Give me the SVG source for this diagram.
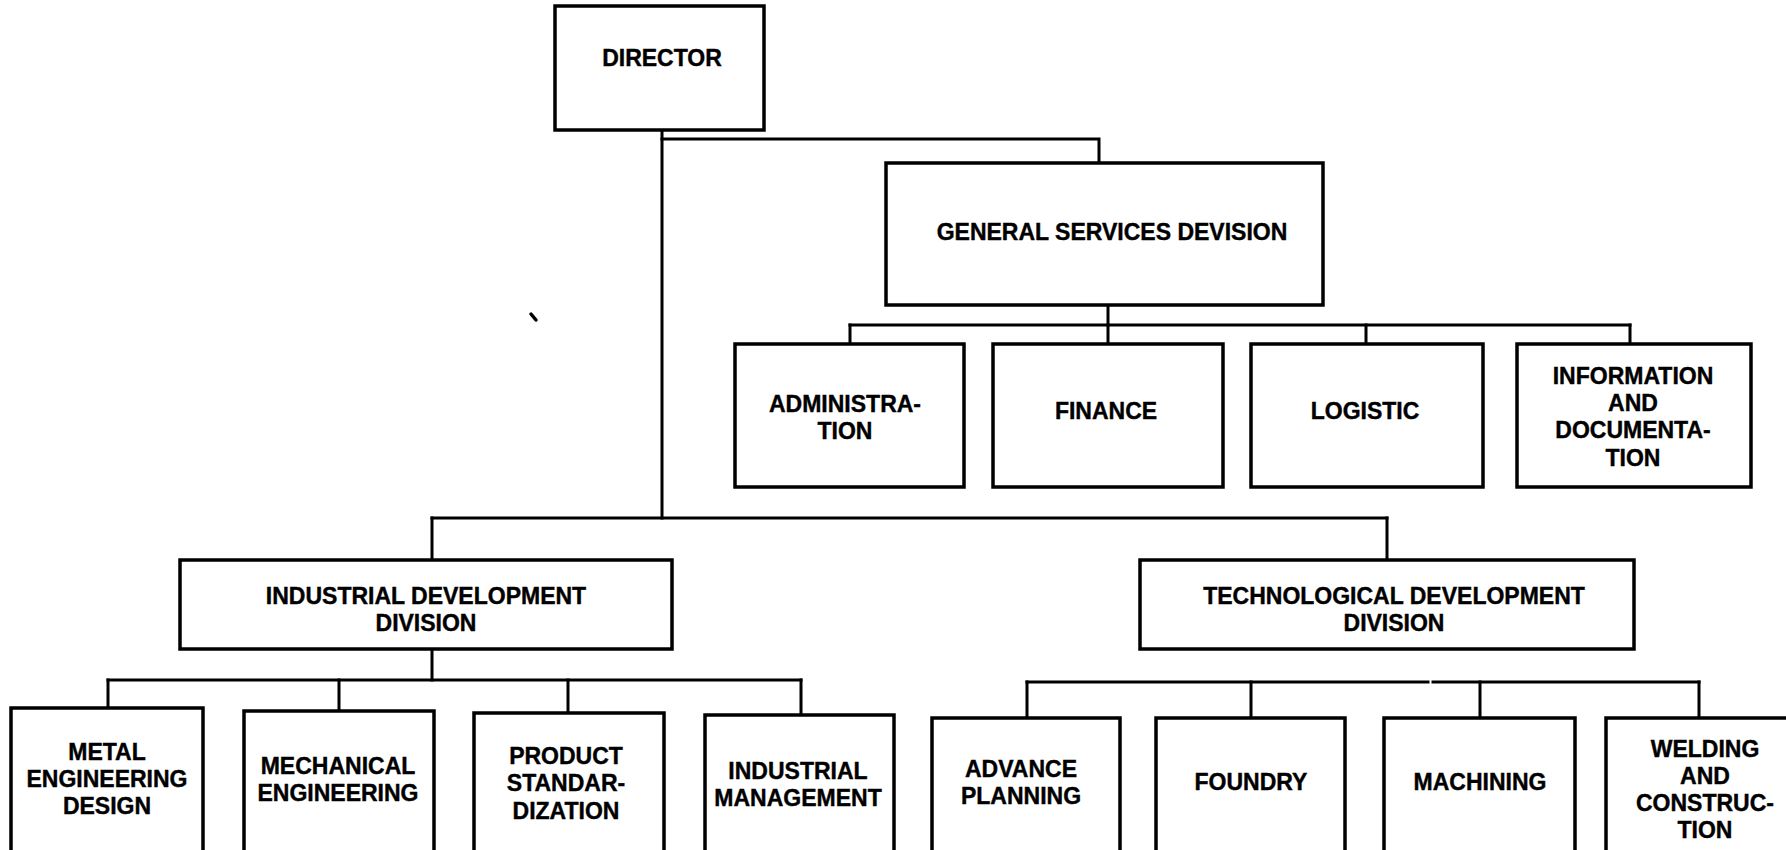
<svg xmlns="http://www.w3.org/2000/svg" width="1786" height="850" viewBox="0 0 1786 850">
  <style>
    .box { fill: #ffffff; stroke: #000000; stroke-width: 3.5; }
    .wire { fill: none; stroke: #000000; stroke-width: 3; stroke-linecap: square; }
    text { font-family: "Liberation Sans", Arial, sans-serif; font-weight: bold; font-size: 23px; fill: #000000; stroke: #000000; stroke-width: 0.4; text-anchor: middle; }
  </style>
  <rect width="1786" height="850" fill="#ffffff"/>

  <!-- connectors -->
  <g id="connectors" class="wire">
    <!-- director trunk and branch to general services -->
    <path d="M662 130 V518"/>
    <path d="M662 139 H1099 V163"/>
    <!-- general services to its units -->
    <path d="M1108 305 V325"/>
    <path d="M850 325 H1630"/>
    <path d="M850 325 V344 M1108 325 V344 M1366 325 V344 M1630 325 V344"/>
    <!-- director trunk to the two development divisions -->
    <path d="M432 518 H1387"/>
    <path d="M432 518 V560 M1387 518 V560"/>
    <!-- industrial development units -->
    <path d="M432 649 V680"/>
    <path d="M108 680 H801"/>
    <path d="M108 680 V708 M339 680 V711 M568 680 V713 M801 680 V715"/>
    <!-- technological development units -->
    <path d="M1027 682 H1428 M1433 682 H1699"/>
    <path d="M1027 682 V718 M1251 682 V718 M1480 682 V718 M1699 682 V718"/>
  </g>

  <g id="director">
    <rect class="box" x="555" y="6" width="209" height="124"/>
    <text x="662" y="66">DIRECTOR</text>
  </g>

  <g id="general-services">
    <rect class="box" x="886" y="163" width="437" height="142"/>
    <text x="1112" y="240">GENERAL SERVICES DEVISION</text>
  </g>

  <g id="administration">
    <rect class="box" x="735" y="344" width="229" height="143"/>
    <text x="845" y="412">ADMINISTRA-</text>
    <text x="845" y="439">TION</text>
  </g>

  <g id="finance">
    <rect class="box" x="993" y="344" width="230" height="143"/>
    <text x="1106" y="419">FINANCE</text>
  </g>

  <g id="logistic">
    <rect class="box" x="1251" y="344" width="232" height="143"/>
    <text x="1365" y="419">LOGISTIC</text>
  </g>

  <g id="information">
    <rect class="box" x="1517" y="344" width="234" height="143"/>
    <text x="1633" y="384">INFORMATION</text>
    <text x="1633" y="411">AND</text>
    <text x="1633" y="438">DOCUMENTA-</text>
    <text x="1633" y="466">TION</text>
  </g>

  <g id="industrial-development">
    <rect class="box" x="180" y="560" width="492" height="89"/>
    <text x="426" y="604">INDUSTRIAL DEVELOPMENT</text>
    <text x="426" y="631">DIVISION</text>
  </g>

  <g id="technological-development">
    <rect class="box" x="1140" y="560" width="494" height="89"/>
    <text x="1394" y="604">TECHNOLOGICAL DEVELOPMENT</text>
    <text x="1394" y="631">DIVISION</text>
  </g>

  <g id="metal-engineering">
    <rect class="box" x="11" y="708" width="192" height="160"/>
    <text x="107" y="760">METAL</text>
    <text x="107" y="787">ENGINEERING</text>
    <text x="107" y="814">DESIGN</text>
  </g>

  <g id="mechanical-engineering">
    <rect class="box" x="244" y="711" width="190" height="160"/>
    <text x="338" y="774">MECHANICAL</text>
    <text x="338" y="801">ENGINEERING</text>
  </g>

  <g id="product-standardization">
    <rect class="box" x="474" y="713" width="190" height="160"/>
    <text x="566" y="764">PRODUCT</text>
    <text x="566" y="791">STANDAR-</text>
    <text x="566" y="819">DIZATION</text>
  </g>

  <g id="industrial-management">
    <rect class="box" x="705" y="715" width="189" height="160"/>
    <text x="798" y="779">INDUSTRIAL</text>
    <text x="798" y="806">MANAGEMENT</text>
  </g>

  <g id="advance-planning">
    <rect class="box" x="932" y="718" width="188" height="160"/>
    <text x="1021" y="777">ADVANCE</text>
    <text x="1021" y="804">PLANNING</text>
  </g>

  <g id="foundry">
    <rect class="box" x="1156" y="718" width="189" height="160"/>
    <text x="1251" y="790">FOUNDRY</text>
  </g>

  <g id="machining">
    <rect class="box" x="1384" y="718" width="191" height="160"/>
    <text x="1480" y="790">MACHINING</text>
  </g>

  <g id="welding">
    <rect class="box" x="1606" y="718" width="200" height="160"/>
    <text x="1705" y="757">WELDING</text>
    <text x="1705" y="784">AND</text>
    <text x="1705" y="811">CONSTRUC-</text>
    <text x="1705" y="838">TION</text>
  </g>

  <!-- small ink speck -->
  <path d="M531 314 L536 320" stroke="#000000" stroke-width="3.5" stroke-linecap="round"/>
</svg>
